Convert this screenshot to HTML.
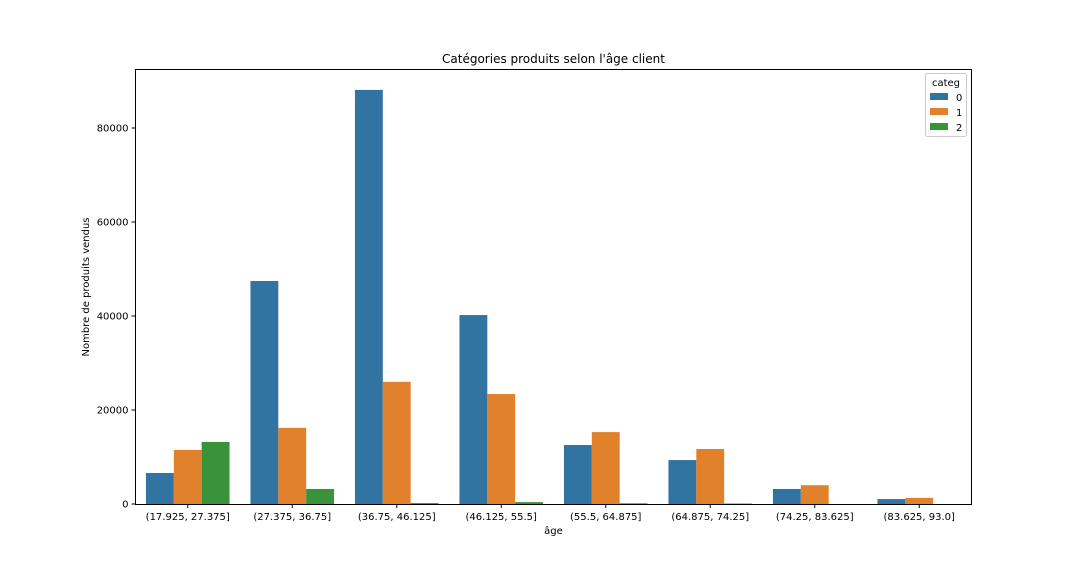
<!DOCTYPE html>
<html><head><meta charset="utf-8">
<style>
html,body{margin:0;padding:0;background:#fff;}
svg{display:block;font-family:"DejaVu Sans","Liberation Sans",sans-serif;}
</style></head>
<body>
<svg id="chart" width="1080" height="576" viewBox="0 0 1080 576">
<text x="553.5" y="63" text-anchor="middle" font-size="12" fill="#000">Catégories produits selon l'âge client</text>
<g id="bars"></g>
<g id="yaxis"></g>
<g id="xaxis"></g>
<rect x="135.5" y="69.5" width="836" height="435" fill="none" stroke="#000" stroke-width="1"/>
<text x="553.5" y="534" text-anchor="middle" font-size="10">âge</text>
<text transform="translate(89,287) rotate(-90)" text-anchor="middle" font-size="10">Nombre de produits vendus</text>
<g>
<rect x="925.5" y="73.5" width="41" height="63" rx="2" fill="#fff" stroke="#ccc"/>
<text x="946" y="86" text-anchor="middle" font-size="10">categ</text>
<rect x="930" y="93" width="18" height="7" fill="#3274a1"/>
<text x="956" y="101" font-size="10">0</text>
<rect x="930" y="108" width="18" height="7" fill="#e1812c"/>
<text x="956" y="116" font-size="10">1</text>
<rect x="930" y="123" width="18" height="7" fill="#3a923a"/>
<text x="956" y="131" font-size="10">2</text>
</g>
</svg>
<script>
const categories = ["(17.925, 27.375]","(27.375, 36.75]","(36.75, 46.125]","(46.125, 55.5]","(55.5, 64.875]","(64.875, 74.25]","(74.25, 83.625]","(83.625, 93.0]"];
const categ0 = [6600, 47450, 88100, 40200, 12550, 9350, 3200, 1050];
const categ1 = [11500, 16200, 26000, 23400, 15300, 11700, 4000, 1300];
const categ2 = [13200, 3200, 200, 400, 150, 100, 0, 0];
const yTicks = [0, 20000, 40000, 60000, 80000];
const colors = ["#3274a1", "#e1812c", "#3a923a"];

const NS = "http://www.w3.org/2000/svg";
const left = 135.5, right = 971.5, bottom = 504, pxPerUnit = 94 / 20000;
const y = v => bottom - v * pxPerUnit;
const band = (right - left) / categories.length;
const xc = i => left + band * (i + 0.5);
const barW = band * 0.8 / 3;

const bars = document.getElementById("bars");
[categ0, categ1, categ2].forEach((series, s) => {
  series.forEach((v, i) => {
    const r = document.createElementNS(NS, "rect");
    r.setAttribute("x", xc(i) - 1.5 * barW + s * barW);
    r.setAttribute("y", y(v));
    r.setAttribute("width", barW);
    r.setAttribute("height", bottom - y(v));
    r.setAttribute("fill", colors[s]);
    
    
    bars.appendChild(r);
  });
});

const ya = document.getElementById("yaxis");
yTicks.forEach(t => {
  const l = document.createElementNS(NS, "line");
  l.setAttribute("x1", left - 4); l.setAttribute("x2", left);
  l.setAttribute("y1", y(t)); l.setAttribute("y2", y(t));
  l.setAttribute("stroke", "#000");
  
  
  ya.appendChild(l);
  const tx = document.createElementNS(NS, "text");
  tx.setAttribute("x", left - 7); tx.setAttribute("y", y(t) + 3.5);
  tx.setAttribute("text-anchor", "end"); tx.setAttribute("font-size", "10");
  tx.textContent = t;
  
  
  ya.appendChild(tx);
});

const xa = document.getElementById("xaxis");
categories.forEach((c, i) => {
  const l = document.createElementNS(NS, "line");
  l.setAttribute("x1", xc(i)); l.setAttribute("x2", xc(i));
  l.setAttribute("y1", bottom); l.setAttribute("y2", bottom + 4);
  l.setAttribute("stroke", "#000");
  
  
  xa.appendChild(l);
  const tx = document.createElementNS(NS, "text");
  tx.setAttribute("x", xc(i)); tx.setAttribute("y", bottom + 16);
  tx.setAttribute("text-anchor", "middle"); tx.setAttribute("font-size", "10");
  tx.textContent = c;
  
  
  xa.appendChild(tx);
});
</script>
</body></html>
